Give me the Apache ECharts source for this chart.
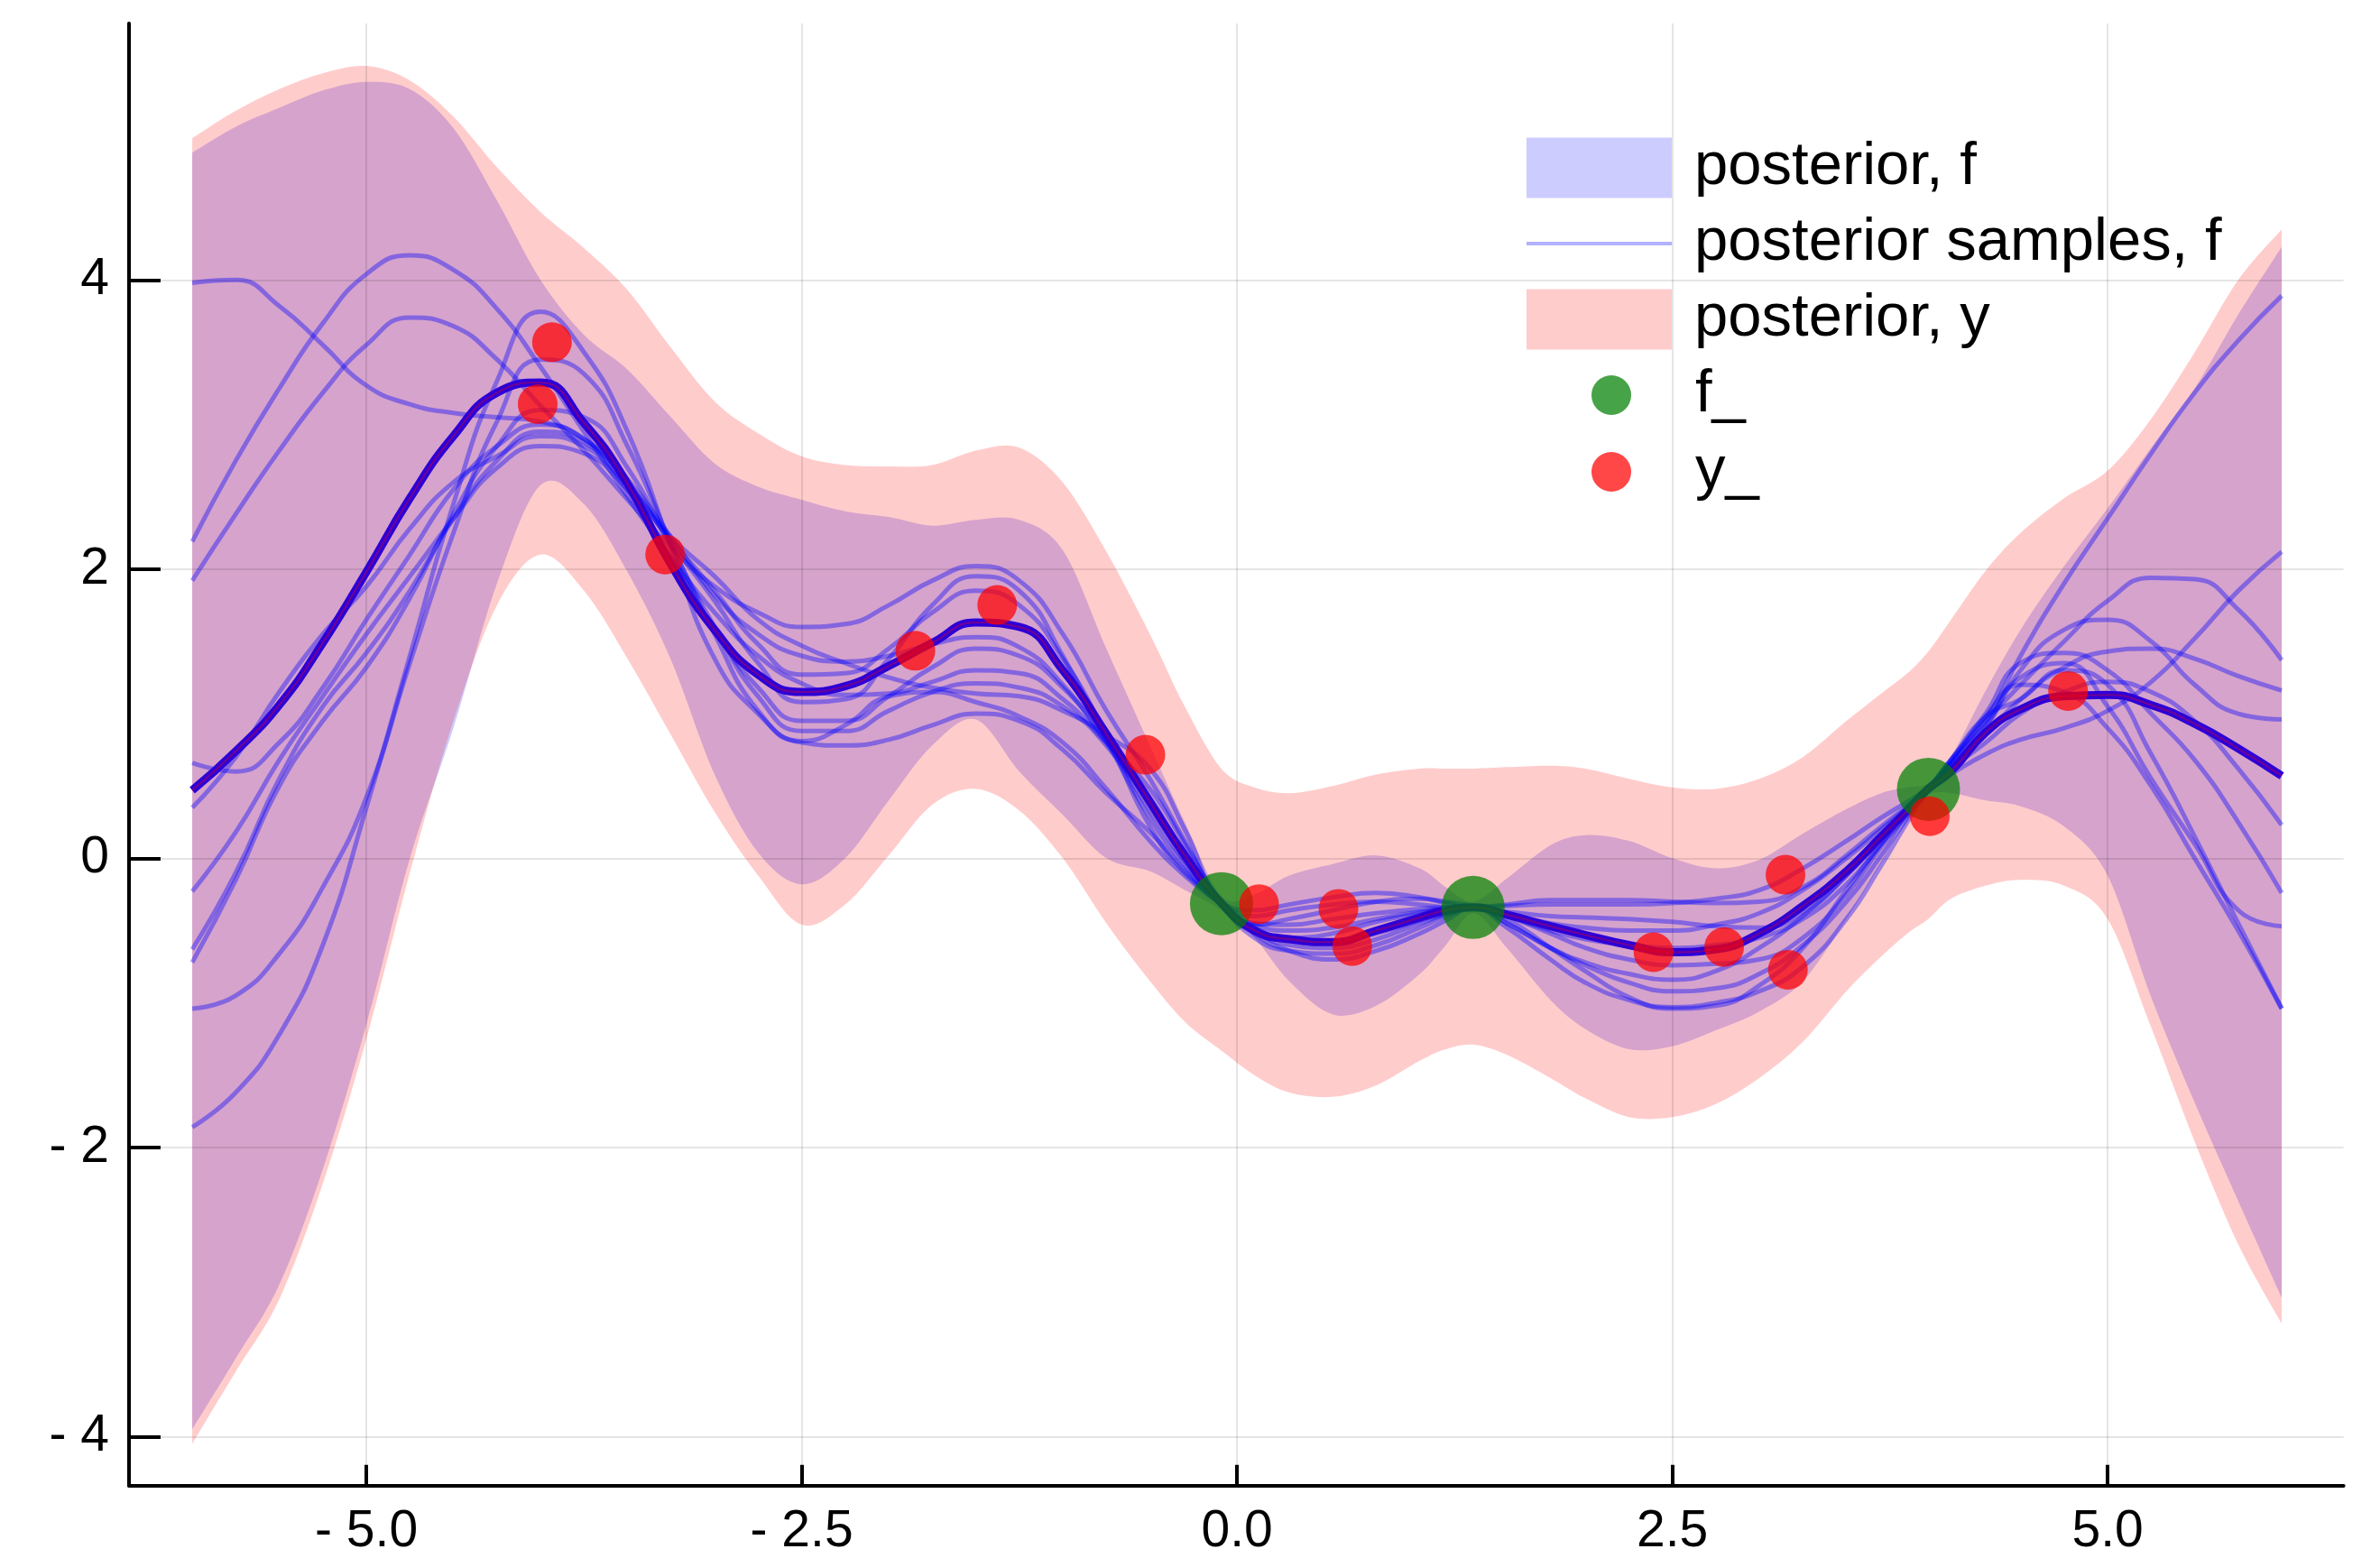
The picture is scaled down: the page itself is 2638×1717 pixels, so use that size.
<!DOCTYPE html>
<html>
<head>
<meta charset="utf-8">
<script src="https://cdn.jsdelivr.net/npm/echarts@6/dist/echarts.min.js"></script>
<style>
html,body{margin:0;padding:0;background:#fff;}
#chart{width:2638px;height:1717px;}
</style>
</head>
<body>
<div id="chart"></div>
<script>
// ---------------- data ----------------
const xGrid = [-6, -5.75, -5.5, -5.25, -5, -4.75, -4.5, -4.25, -4, -3.75,
  -3.5, -3.25, -3, -2.75, -2.5, -2.25, -2, -1.75, -1.5, -1.25,
  -1, -0.75, -0.5, -0.3, -0.09, 0.1, 0.3, 0.55, 0.8, 1.05,
  1.2, 1.36, 1.55, 1.8, 2.0, 2.25, 2.5, 2.75, 3, 3.25,
  3.5, 3.7, 3.85, 3.97, 4.1, 4.3, 4.5, 4.75, 5, 5.25,
  5.5, 5.75, 6];

const postMean = [0.47, 0.74, 1.06, 1.49, 1.98, 2.49, 2.92, 3.22, 3.29, 3.01,
  2.59, 2.03, 1.58, 1.27, 1.15, 1.19, 1.33, 1.49, 1.63, 1.60,
  1.30, 0.86, 0.39, 0.02, -0.31, -0.50, -0.56, -0.58, -0.50, -0.41,
  -0.36, -0.34, -0.39, -0.47, -0.53, -0.60, -0.65, -0.63, -0.52, -0.33,
  -0.09, 0.15, 0.33, 0.48, 0.60, 0.87, 1.03, 1.12, 1.13, 1.06,
  0.93, 0.76, 0.57];

const fUpper = [4.88, 5.06, 5.19, 5.31, 5.37, 5.32, 5.05, 4.55, 4.00, 3.62,
  3.38, 3.05, 2.73, 2.57, 2.48, 2.40, 2.36, 2.30, 2.34, 2.34,
  2.13, 1.45, 0.78, 0.25, -0.26, -0.25, -0.12, -0.04, 0.02, -0.07,
  -0.20, -0.30, -0.14, 0.09, 0.16, 0.12, 0.00, -0.07, -0.01, 0.17,
  0.34, 0.45, 0.49, 0.52, 0.70, 1.16, 1.58, 2.02, 2.42, 2.84,
  3.25, 3.76, 4.23];

const fLower = [-3.95, -3.46, -2.95, -2.15, -1.15, 0.00, 0.90, 1.90, 2.58, 2.45,
  1.98, 1.37, 0.58, 0.04, -0.18, 0.00, 0.40, 0.78, 0.96, 0.60,
  0.30, 0.00, -0.09, -0.22, -0.36, -0.55, -0.85, -1.08, -1.02, -0.80,
  -0.60, -0.38, -0.62, -0.98, -1.18, -1.32, -1.30, -1.19, -1.06, -0.85,
  -0.42, -0.03, 0.30, 0.44, 0.45, 0.40, 0.36, 0.22, -0.12, -0.96,
  -1.69, -2.37, -3.04];

const yUpper = [4.98, 5.17, 5.32, 5.43, 5.48, 5.38, 5.13, 4.78, 4.47, 4.22,
  3.93, 3.53, 3.16, 2.94, 2.78, 2.72, 2.71, 2.72, 2.82, 2.84,
  2.60, 2.12, 1.55, 1.05, 0.62, 0.49, 0.45, 0.50, 0.58, 0.62,
  0.62, 0.62, 0.63, 0.64, 0.62, 0.55, 0.49, 0.48, 0.55, 0.70,
  0.95, 1.14, 1.28, 1.43, 1.65, 1.99, 2.25, 2.49, 2.68, 3.04,
  3.50, 4.00, 4.35];

const yLower = [-4.05, -3.55, -3.05, -2.25, -1.25, -0.10, 0.95, 1.75, 2.10, 1.85,
  1.38, 0.85, 0.32, -0.12, -0.46, -0.32, 0.02, 0.37, 0.48, 0.33,
  0.00, -0.45, -0.85, -1.13, -1.33, -1.50, -1.62, -1.65, -1.57, -1.40,
  -1.32, -1.29, -1.36, -1.52, -1.66, -1.79, -1.79, -1.70, -1.52, -1.27,
  -0.92, -0.68, -0.52, -0.42, -0.28, -0.19, -0.15, -0.19, -0.42, -1.17,
  -1.96, -2.67, -3.22];

const sampleA = [3.98, 4.00, 3.82, 3.55, 3.27, 3.14, 3.08, 3.05, 3.02, 2.90,
  2.62, 2.22, 1.82, 1.55, 1.40, 1.36, 1.40, 1.48, 1.53, 1.46,
  1.20, 0.80, 0.38, 0.03, -0.31, -0.45, -0.46, -0.42, -0.38, -0.35,
  -0.34, -0.34, -0.33, -0.32, -0.32, -0.32, -0.31, -0.28, -0.22, -0.07,
  0.12, 0.28, 0.39, 0.48, 0.58, 0.72, 0.82, 0.90, 1.02, 1.22,
  1.52, 1.85, 2.12];
const sampleB = [2.19, 2.75, 3.25, 3.70, 4.04, 4.17, 4.07, 3.80, 3.40, 2.95,
  2.50, 2.08, 1.70, 1.40, 1.21, 1.13, 1.14, 1.22, 1.30, 1.28,
  1.10, 0.80, 0.48, 0.10, -0.31, -0.55, -0.64, -0.66, -0.60, -0.48,
  -0.40, -0.34, -0.42, -0.62, -0.78, -0.96, -1.04, -1.02, -0.88, -0.62,
  -0.22, 0.10, 0.33, 0.47, 0.65, 0.95, 1.40, 1.90, 2.35, 2.80,
  3.22, 3.58, 3.89];
const sampleC = [1.92, 2.38, 2.82, 3.22, 3.55, 3.74, 3.68, 3.45, 3.13, 2.82,
  2.48, 2.15, 1.88, 1.70, 1.60, 1.62, 1.75, 1.92, 2.02, 1.92,
  1.55, 1.02, 0.55, 0.12, -0.30, -0.50, -0.55, -0.52, -0.44, -0.38,
  -0.35, -0.34, -0.40, -0.50, -0.56, -0.60, -0.62, -0.60, -0.55, -0.42,
  -0.18, 0.10, 0.31, 0.48, 0.68, 0.95, 1.20, 1.50, 1.78, 1.94,
  1.93, 1.72, 1.37];
const sampleD = [0.66, 0.60, 0.80, 1.18, 1.65, 2.10, 2.55, 2.85, 3.00, 2.90,
  2.60, 2.18, 1.78, 1.35, 1.08, 1.10, 1.38, 1.75, 1.95, 1.85,
  1.40, 0.82, 0.28, -0.05, -0.31, -0.36, -0.32, -0.27, -0.24, -0.27,
  -0.31, -0.34, -0.32, -0.29, -0.29, -0.29, -0.30, -0.31, -0.30, -0.20,
  0.02, 0.22, 0.36, 0.47, 0.62, 0.90, 1.30, 1.58, 1.65, 1.50,
  1.20, 1.00, 0.96];
const sampleE = [0.35, 0.70, 1.15, 1.55, 1.88, 2.28, 2.60, 2.78, 2.92, 2.85,
  2.58, 2.22, 1.95, 1.65, 1.47, 1.35, 1.25, 1.18, 1.14, 1.12,
  1.02, 0.85, 0.62, 0.20, -0.32, -0.46, -0.42, -0.36, -0.30, -0.28,
  -0.30, -0.33, -0.38, -0.45, -0.48, -0.50, -0.50, -0.46, -0.38, -0.22,
  0.00, 0.20, 0.35, 0.48, 0.66, 0.98, 1.25, 1.35, 1.05, 0.55,
  0.10, -0.36, -0.47];
const sampleF = [-0.23, 0.18, 0.68, 1.12, 1.55, 1.95, 2.35, 2.70, 2.85, 2.80,
  2.55, 2.20, 1.85, 1.48, 1.27, 1.28, 1.45, 1.70, 1.85, 1.75,
  1.38, 0.85, 0.22, -0.10, -0.31, -0.52, -0.64, -0.70, -0.64, -0.52,
  -0.43, -0.34, -0.45, -0.62, -0.72, -0.80, -0.84, -0.78, -0.62, -0.40,
  -0.12, 0.14, 0.33, 0.48, 0.64, 0.86, 1.10, 1.32, 1.43, 1.45,
  1.38, 1.26, 1.16];
const sampleG = [-0.63, -0.10, 0.55, 1.05, 1.42, 1.85, 2.35, 2.75, 2.95, 2.88,
  2.55, 2.08, 1.58, 1.18, 0.95, 0.95, 1.12, 1.32, 1.45, 1.40,
  1.18, 0.82, 0.42, 0.04, -0.30, -0.40, -0.36, -0.32, -0.30, -0.32,
  -0.34, -0.35, -0.37, -0.40, -0.41, -0.42, -0.44, -0.47, -0.48, -0.38,
  -0.12, 0.15, 0.34, 0.48, 0.62, 0.80, 1.00, 1.15, 1.22, 1.15,
  0.95, 0.62, 0.23];
const sampleH = [-0.72, -0.15, 0.50, 0.95, 1.32, 1.80, 2.38, 2.85, 3.10, 3.05,
  2.70, 2.15, 1.60, 1.12, 0.88, 0.88, 1.02, 1.15, 1.21, 1.18,
  1.05, 0.78, 0.33, -0.02, -0.31, -0.48, -0.56, -0.58, -0.52, -0.43,
  -0.38, -0.34, -0.40, -0.52, -0.62, -0.70, -0.74, -0.73, -0.70, -0.55,
  -0.25, 0.08, 0.30, 0.47, 0.68, 1.00, 1.35, 1.42, 1.30, 1.00,
  0.68, 0.25, -0.24];
const sampleI = [-1.04, -0.95, -0.66, -0.20, 0.42, 1.35, 2.25, 3.02, 3.45, 3.35,
  2.85, 2.18, 1.55, 1.02, 0.81, 0.92, 1.12, 1.15, 1.08, 0.98,
  0.80, 0.48, 0.12, -0.12, -0.32, -0.50, -0.60, -0.62, -0.56, -0.45,
  -0.39, -0.35, -0.48, -0.70, -0.86, -0.98, -1.03, -1.00, -0.92, -0.75,
  -0.42, -0.05, 0.25, 0.47, 0.66, 0.92, 1.20, 1.15, 0.90, 0.50,
  0.00, -0.50, -1.04];
const sampleJ = [-1.86, -1.62, -1.22, -0.60, 0.35, 1.40, 2.45, 3.30, 3.78, 3.50,
  2.95, 2.15, 1.38, 1.00, 0.80, 0.78, 0.82, 0.92, 1.00, 0.95,
  0.75, 0.45, 0.18, -0.08, -0.31, -0.46, -0.50, -0.48, -0.42, -0.37,
  -0.35, -0.34, -0.45, -0.62, -0.74, -0.86, -0.92, -0.90, -0.80, -0.60,
  -0.30, 0.02, 0.28, 0.48, 0.68, 0.98, 1.10, 1.30, 1.20, 0.72,
  0.15, -0.45, -1.04];
const samples = [sampleA, sampleB, sampleC, sampleD, sampleE, sampleF, sampleG, sampleH, sampleI, sampleJ];

const fObsX = [-0.089, 1.356, 3.971];
const fObsY = [-0.314, -0.340, 0.477];

const yObsX = [-4.016, -3.934, -3.284, -1.847, -1.377, -0.526, 0.127, 0.583, 0.662, 2.392, 2.798, 3.150, 3.164, 3.979, 4.773];
const yObsY = [3.141, 3.569, 2.101, 1.435, 1.752, 0.716, -0.317, -0.350, -0.608, -0.650, -0.614, -0.114, -0.771, 0.291, 1.157];

const xTickValues = [-5, -2.5, 0, 2.5, 5];
const xTickLabels = ['- 5.0', '- 2.5', '0.0', '2.5', '5.0'];
const yTickValues = [-4, -2, 0, 2, 4];
const yTickLabels = ['- 4', '- 2', '0', '2', '4'];

// ---------------- chart ----------------
const FONT = '"Liberation Sans", Arial, Helvetica, sans-serif';
const pairs = (xs, ys) => xs.map((x, i) => [x, ys[i]]);
const labelOf = (vals, labels) => v => {
  const i = vals.findIndex(t => Math.abs(t - v) < 1e-6);
  return i >= 0 ? labels[i] : '';
};

// Catmull-Rom spline through pixel points -> cubic bezier path segments
function splineSegs(pts) {
  let d = '';
  for (let i = 0; i < pts.length - 1; i++) {
    const p0 = pts[i - 1] || pts[i], p1 = pts[i], p2 = pts[i + 1], p3 = pts[i + 2] || pts[i + 1];
    const c1x = p1[0] + (p2[0] - p0[0]) / 6, c1y = p1[1] + (p2[1] - p0[1]) / 6;
    const c2x = p2[0] - (p3[0] - p1[0]) / 6, c2y = p2[1] - (p3[1] - p1[1]) / 6;
    d += ' C' + c1x.toFixed(2) + ',' + c1y.toFixed(2) + ' ' + c2x.toFixed(2) + ',' + c2y.toFixed(2) + ' ' + p2[0].toFixed(2) + ',' + p2[1].toFixed(2);
  }
  return d;
}

function bandSeries(name, lower, upper, color) {
  return {
    type: 'custom', name: name, silent: true, z: 1, clip: true,
    data: xGrid.map((x, i) => [x, lower[i], upper[i]]),
    encode: { x: 0, y: [1, 2] },
    itemStyle: { color: color },
    renderItem: function (params, api) {
      if (params.dataIndex !== 0) return null;
      const up = xGrid.map((x, i) => api.coord([x, upper[i]]));
      const lo = xGrid.map((x, i) => api.coord([x, lower[i]])).reverse();
      const d = 'M' + up[0][0] + ',' + up[0][1] + splineSegs(up) +
        ' L' + lo[0][0] + ',' + lo[0][1] + splineSegs(lo) + ' Z';
      return { type: 'path', shape: { pathData: d }, style: { fill: color } };
    }
  };
}

const series = [];
series.push(bandSeries('posterior, f', fLower, fUpper, 'rgba(0,0,255,0.2)'));
series.push(bandSeries('posterior, y', yLower, yUpper, 'rgba(255,0,0,0.2)'));
samples.forEach(s => series.push({
  type: 'line', name: 'posterior samples, f', data: pairs(xGrid, s), smooth: true,
  symbol: 'none', showSymbol: false, silent: true, z: 3,
  lineStyle: { color: 'rgba(0,0,255,0.38)', width: 5 }
}));
series.push({
  type: 'line', name: 'mean f', data: pairs(xGrid, postMean), smooth: true,
  symbol: 'none', showSymbol: false, silent: true, z: 3,
  lineStyle: { color: 'rgb(45,0,215)', width: 9 }
});
series.push({
  type: 'line', name: 'mean y', data: pairs(xGrid, postMean), smooth: true,
  symbol: 'none', showSymbol: false, silent: true, z: 3,
  lineStyle: { color: 'rgba(200,0,60,0.45)', width: 2 }
});
series.push({
  type: 'scatter', name: 'f_', data: pairs(fObsX, fObsY), symbolSize: 70, silent: true, z: 4,
  itemStyle: { color: 'rgba(0,128,0,0.9)' }
});
series.push({
  type: 'scatter', name: 'y_', data: pairs(yObsX, yObsY), symbolSize: 44, silent: true, z: 5,
  itemStyle: { color: 'rgba(255,0,0,0.9)' }
});

const legText = (padTop, padLeft) => ({ fontFamily: FONT, fontSize: 67, color: '#000', lineHeight: 80, padding: [padTop, 0, 0, padLeft] });
const legBase = { orient: 'vertical', padding: 0, itemGap: 0, selectedMode: false };
const legends = [
  Object.assign({}, legBase, { left: 1692, top: 130, itemWidth: 161, itemHeight: 67, textStyle: legText(32, 20),
    data: [{ name: 'posterior, f', icon: 'rect', itemStyle: { color: 'rgba(0,0,255,0.2)', borderWidth: 0 } }] }),
  Object.assign({}, legBase, { left: 1692, top: 214, itemWidth: 161, itemHeight: 4, textStyle: legText(32, 20),
    data: [{ name: 'posterior samples, f', icon: 'rect', itemStyle: { color: 'rgba(0,0,255,0.3)', borderWidth: 0 } }] }),
  Object.assign({}, legBase, { left: 1692, top: 298, itemWidth: 161, itemHeight: 67, textStyle: legText(32, 20),
    data: [{ name: 'posterior, y', icon: 'rect', itemStyle: { color: 'rgba(255,0,0,0.2)', borderWidth: 0 } }] }),
  Object.assign({}, legBase, { left: 1764, top: 382, itemWidth: 44, itemHeight: 44, textStyle: legText(32, 66),
    data: [{ name: 'f_', icon: 'circle', itemStyle: { color: 'rgba(0,128,0,0.9)', borderWidth: 0 } }] }),
  Object.assign({}, legBase, { left: 1764, top: 467, itemWidth: 44, itemHeight: 44, textStyle: legText(32, 66),
    data: [{ name: 'y_', icon: 'circle', itemStyle: { color: 'rgba(255,0,0,0.9)', borderWidth: 0 } }] })
];

const chart = echarts.init(document.getElementById('chart'), null, { renderer: 'canvas', width: 2638, height: 1717 });
chart.setOption({
  animation: false,
  backgroundColor: '#ffffff',
  grid: { left: 143, right: 40.4, top: 26, bottom: 70.3, containLabel: false, outerBoundsMode: 'none' },
  legend: legends,
  xAxis: {
    type: 'value', min: -6.363, max: 6.355, z: 2,
    axisLine: { onZero: false, lineStyle: { color: '#000', width: 4 } },
    axisTick: { inside: true, length: 23, customValues: xTickValues, lineStyle: { color: '#000', width: 4 } },
    axisLabel: { customValues: xTickValues, formatter: labelOf(xTickValues, xTickLabels),
      fontFamily: FONT, fontSize: 57, color: '#000', margin: 23 },
    splitLine: { show: true, lineStyle: { color: 'rgba(0,0,0,0.1)', width: 2 } }
  },
  yAxis: {
    type: 'value', min: -4.339, max: 5.774, z: 2,
    axisLine: { onZero: false, lineStyle: { color: '#000', width: 4 } },
    axisTick: { inside: true, length: 35, customValues: yTickValues, lineStyle: { color: '#000', width: 4 } },
    axisLabel: { customValues: yTickValues, formatter: labelOf(yTickValues, yTickLabels),
      fontFamily: FONT, fontSize: 57, color: '#000', margin: 22 },
    splitLine: { show: true, lineStyle: { color: 'rgba(0,0,0,0.1)', width: 2 } }
  },
  series: series
});
</script>
</body>
</html>
